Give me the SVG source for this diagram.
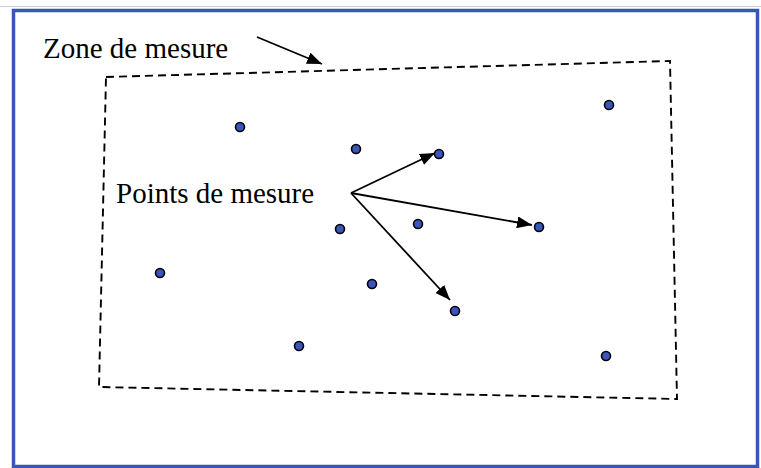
<svg xmlns="http://www.w3.org/2000/svg" width="761" height="468" viewBox="0 0 761 468">
<style>
.lbl{font-family:"Liberation Serif","Times New Roman",serif;font-size:29px;fill:#000}
.pt{fill:#3A55BC;stroke:#000;stroke-width:1.6}
.arr{stroke:#000;stroke-width:1.8;fill:none;marker-end:url(#ah)}
.zone{fill:none;stroke:#000;stroke-width:1.9;stroke-dasharray:8 5}
</style>
<defs>
<marker id="ah" viewBox="0 0 10 10" refX="10" refY="5" markerWidth="15" markerHeight="12" markerUnits="userSpaceOnUse" orient="auto" preserveAspectRatio="none">
<path d="M0,0 L10,5 L0,10 Z" fill="#000"/>
</marker>
</defs>
<rect x="0" y="0" width="761" height="468" fill="#fff"/>
<line x1="0" y1="6.5" x2="761" y2="6.5" stroke="#c8ccd4" stroke-width="1"/>
<rect id="frame" x="13.5" y="10.5" width="744" height="456" fill="none" stroke="#3A56B4" stroke-width="3.5"/>
<g id="zone">
<polygon class="zone" points="106,77 670,61 677,399 99,387"/>
<text class="lbl" x="43" y="58">Zone de mesure</text>
</g>
<g id="label-points">
<text class="lbl" x="116" y="203">Points de mesure</text>
</g>
<g id="connectors">
<line class="arr" x1="257" y1="37" x2="322" y2="64"/>
<line class="arr" x1="351" y1="193" x2="435" y2="153"/>
<line class="arr" x1="351" y1="193" x2="532" y2="225"/>
<line class="arr" x1="351" y1="193" x2="450" y2="300"/>
</g>
<g id="points">
<circle class="pt" cx="609" cy="105" r="4.5"/>
<circle class="pt" cx="240" cy="127" r="4.5"/>
<circle class="pt" cx="356" cy="149" r="4.5"/>
<circle class="pt" cx="439" cy="154" r="4.5"/>
<circle class="pt" cx="340" cy="229" r="4.5"/>
<circle class="pt" cx="418" cy="224" r="4.5"/>
<circle class="pt" cx="539" cy="227" r="4.5"/>
<circle class="pt" cx="160" cy="273" r="4.5"/>
<circle class="pt" cx="372" cy="284" r="4.5"/>
<circle class="pt" cx="455" cy="311" r="4.5"/>
<circle class="pt" cx="299" cy="346" r="4.5"/>
<circle class="pt" cx="606" cy="356" r="4.5"/>
</g>
</svg>
